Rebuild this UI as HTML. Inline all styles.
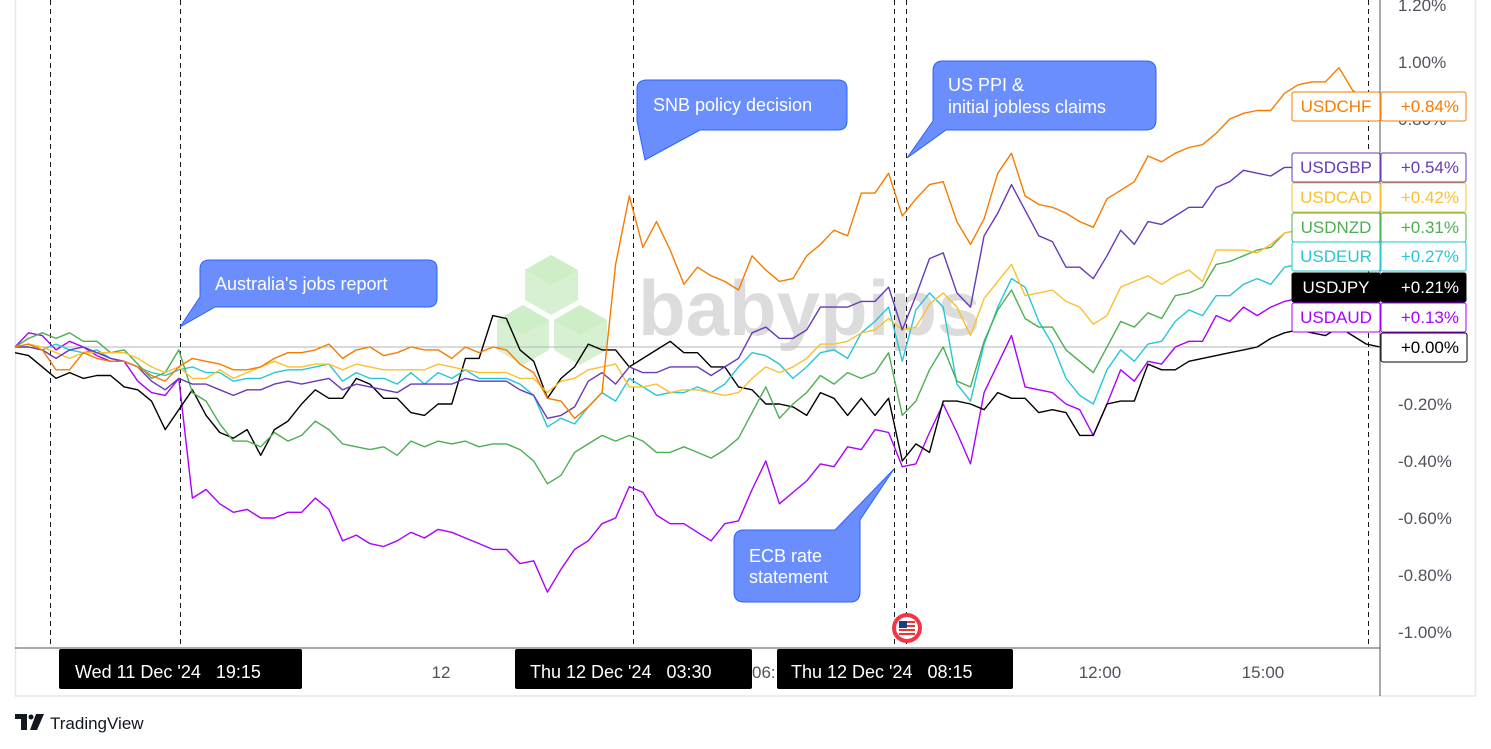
<!DOCTYPE html>
<html><head><meta charset="utf-8"><style>
html,body{margin:0;padding:0;background:#fff;}
svg{display:block;font-family:"Liberation Sans",sans-serif;}
</style></head><body>
<svg id="chart" width="1491" height="749" viewBox="0 0 1491 749">
<rect x="0" y="0" width="1491" height="749" fill="#fff"/>
<rect x="15.5" y="-1" width="1460" height="697" fill="none" stroke="#e6e7ec" stroke-width="1.5"/>
<g id="watermark">
<g><polygon points="551,255 578,270 578,300 551,315 525,300 525,270" fill="#d6f0d1"/><polygon points="551,255 578,270 551,285 525,270" fill="#cdeec7"/></g>
<g><polygon points="523,305 549,320 549,350 523,365 497,350 497,320" fill="#d6f0d1"/><polygon points="523,305 549,320 523,335 497,320" fill="#cdeec7"/></g>
<g><polygon points="580,305 607,320 607,350 580,365 554,350 554,320" fill="#d6f0d1"/><polygon points="580,305 607,320 580,335 554,320" fill="#cdeec7"/></g>
<text x="638" y="335" font-size="78" font-weight="bold" fill="#dcdcdc">babypips</text>
</g>
<g id="grid"></g>
<line x1="15" y1="347" x2="1380" y2="347" stroke="#b2b5be" stroke-width="1"/>
<g id="vlines"></g>
<g id="series"></g>
<line x1="1380" y1="0" x2="1380" y2="696" stroke="#50535e" stroke-width="1"/>
<line x1="15" y1="648" x2="1380" y2="648" stroke="#50535e" stroke-width="1"/>
<g id="yticks"></g>
<g id="labels"></g>
<g font-size="17">
<text x="441" y="678" text-anchor="middle" fill="#50535e">12</text>
<text x="752" y="678" fill="#50535e">06:</text>
<text x="1100" y="678" text-anchor="middle" fill="#50535e">12:00</text>
<text x="1263" y="678" text-anchor="middle" fill="#50535e">15:00</text>
<g><rect x="59" y="649" width="243" height="40" rx="2" fill="#000"/><text x="75" y="678" fill="#fff" font-size="18">Wed 11 Dec '24 &#160;&#160;19:15</text></g>
<g><rect x="515" y="649" width="237" height="40" rx="2" fill="#000"/><text x="530" y="678" fill="#fff" font-size="18">Thu 12 Dec '24 &#160;&#160;03:30</text></g>
<g><rect x="777" y="649" width="236" height="40" rx="2" fill="#000"/><text x="791" y="678" fill="#fff" font-size="18">Thu 12 Dec '24 &#160;&#160;08:15</text></g>
</g>
<g>
<circle cx="907" cy="628" r="15" fill="#f23645"/><circle cx="907" cy="628" r="11" fill="#fff"/>
<rect x="899" y="621" width="16" height="14" fill="#e53935"/><rect x="899" y="623" width="16" height="2" fill="#fff"/><rect x="899" y="627" width="16" height="2" fill="#fff"/><rect x="899" y="631" width="16" height="2" fill="#fff"/><rect x="899" y="621" width="8" height="7" fill="#1e3a8a"/>
</g>
<g font-size="18" fill="#fff">
<g><path d="M210,260 H428 Q437,260 437,269 V298 Q437,307 428,307 H215 L180,327 L200,297 V269 Q200,260 210,260 Z" fill="#6b8eff" stroke="#2962ff" stroke-width="1"/><text x="215" y="290">Australia's jobs report</text></g>
<g><path d="M647,80 H838 Q847,80 847,89 V121 Q847,130 838,130 H700 L645,160 L637,121 V89 Q637,80 647,80 Z" fill="#6b8eff" stroke="#2962ff" stroke-width="1"/><text x="653" y="111">SNB policy decision</text></g>
<g><path d="M943,61 H1146 Q1156,61 1156,71 V120 Q1156,130 1146,130 H946 L907,158 L933,121 V71 Q933,61 943,61 Z" fill="#6b8eff" stroke="#2962ff" stroke-width="1"/><text x="948" y="91">US PPI &amp;</text><text x="948" y="113">initial jobless claims</text></g>
<g><path d="M744,530 H835 L894,469 L860,520 V592 Q860,602 850,602 H744 Q734,602 734,592 V540 Q734,530 744,530 Z" fill="#6b8eff" stroke="#2962ff" stroke-width="1"/><text x="749" y="562">ECB rate</text><text x="749" y="583">statement</text></g>
</g>
<g>
<path d="M15,714 H27 V730 H21 V719 H15 Z" fill="#131722"/><circle cx="31" cy="717" r="2.5" fill="#131722"/><path d="M36,714 H44 L37,730 H30 Z" fill="#131722"/>
<text x="50" y="729" font-size="17" fill="#131722">TradingView</text>
</g>
</svg>
<script>
const seriesNames = ["USDCHF","USDGBP","USDCAD","USDNZD","USDEUR","USDJPY","USDAUD"];
const seriesColors = ["#f57c00","#673ab7","#fbc02d","#4caf50","#26c6da","#000000","#aa00ff"];
const finalValues = ["+0.84%","+0.54%","+0.42%","+0.31%","+0.27%","+0.21%","+0.13%"];
const yTickValues = [1.2,1.0,0.8,0.6,0.4,0.2,0,-0.2,-0.4,-0.6,-0.8,-1.0];
const eventIndex = [2.6,12.1,45.3,64.4,65.3,99.1];
const usdchf = [0.00,0.01,-0.01,-0.08,-0.08,-0.02,-0.04,-0.05,-0.05,-0.07,-0.10,-0.12,-0.07,-0.04,-0.05,-0.06,-0.08,-0.08,-0.07,-0.04,-0.02,-0.02,-0.01,0.01,-0.04,-0.01,0.00,-0.03,-0.02,0.00,-0.01,-0.01,-0.04,0.00,-0.02,0.00,
-0.01,-0.06,-0.09,-0.18,-0.19,-0.25,-0.21,-0.16,0.29,0.53,0.35,0.44,0.34,0.22,0.28,0.25,0.23,0.20,0.32,0.27,0.23,0.24,0.32,0.36,0.41,0.39,0.54,0.54,0.61,
0.46,0.52,0.57,0.58,0.44,0.36,0.45,0.61,0.68,0.53,0.50,0.49,0.47,0.44,0.42,0.52,0.55,0.58,0.67,0.65,0.68,0.70,0.71,0.75,0.80,0.82,0.83,0.83,0.89,0.92,0.93,0.93,0.98,0.90,0.87,0.84];
const usdgbp = [0.00,0.00,-0.01,-0.04,-0.01,0.00,-0.02,-0.04,-0.05,-0.07,-0.12,-0.15,-0.11,-0.13,-0.13,-0.15,-0.17,-0.15,-0.15,-0.13,-0.12,-0.13,-0.12,-0.11,-0.15,-0.13,-0.14,-0.15,-0.16,-0.13,-0.13,-0.13,-0.13,-0.11,-0.12,-0.12,
-0.12,-0.15,-0.17,-0.25,-0.24,-0.21,-0.12,-0.09,-0.13,-0.07,-0.09,-0.09,-0.07,-0.07,-0.07,-0.10,-0.07,-0.04,0.05,0.07,0.03,0.03,0.06,0.14,0.14,0.14,0.16,0.16,0.21,
0.06,0.18,0.31,0.33,0.19,0.14,0.39,0.47,0.57,0.48,0.39,0.37,0.28,0.28,0.24,0.32,0.41,0.36,0.44,0.43,0.46,0.49,0.49,0.56,0.58,0.62,0.61,0.60,0.63,0.63,0.63,0.62,0.62,0.61,0.60,0.60];
const usdcad = [0.00,0.01,0.00,-0.02,-0.04,-0.02,-0.02,-0.02,-0.02,-0.04,-0.07,-0.09,-0.07,-0.11,-0.11,-0.08,-0.11,-0.09,-0.07,-0.05,-0.07,-0.07,-0.06,-0.06,-0.08,-0.06,-0.07,-0.08,-0.08,-0.08,-0.08,-0.06,-0.07,-0.08,-0.09,-0.09,
-0.09,-0.11,-0.11,-0.16,-0.12,-0.11,-0.08,-0.07,-0.06,-0.14,-0.14,-0.13,-0.16,-0.15,-0.15,-0.16,-0.17,-0.16,-0.11,-0.07,-0.09,-0.07,-0.04,0.01,0.01,0.02,0.05,0.06,0.10,
0.06,0.07,0.15,0.19,0.14,0.04,0.17,0.23,0.29,0.18,0.19,0.20,0.16,0.14,0.08,0.11,0.21,0.23,0.25,0.22,0.25,0.27,0.23,0.34,0.34,0.34,0.33,0.36,0.40,0.41,0.42,0.42,0.42,0.42,0.42,0.42];
const usdnzd = [0.00,0.03,0.05,0.03,0.05,0.02,0.02,-0.02,-0.01,-0.06,-0.11,-0.09,-0.01,-0.16,-0.19,-0.27,-0.33,-0.33,-0.35,-0.30,-0.33,-0.31,-0.26,-0.29,-0.34,-0.35,-0.36,-0.35,-0.38,-0.33,-0.35,-0.33,-0.34,-0.33,-0.35,-0.34,
-0.34,-0.36,-0.40,-0.48,-0.45,-0.37,-0.34,-0.31,-0.33,-0.31,-0.33,-0.37,-0.37,-0.35,-0.37,-0.39,-0.36,-0.32,-0.23,-0.14,-0.25,-0.20,-0.16,-0.10,-0.13,-0.09,-0.11,-0.09,-0.02,
-0.24,-0.19,-0.08,0.00,-0.12,-0.14,0.02,0.13,0.20,0.10,0.07,0.07,-0.01,-0.05,-0.09,0.00,0.09,0.07,0.12,0.10,0.18,0.19,0.21,0.29,0.30,0.32,0.34,0.35,0.40,0.41,0.42,0.42,0.43,0.42,0.42,0.42];
const usdeur = [0.00,0.00,-0.01,0.01,-0.01,-0.02,-0.01,-0.04,-0.05,-0.07,-0.09,-0.10,-0.08,-0.07,-0.09,-0.09,-0.12,-0.11,-0.11,-0.09,-0.08,-0.08,-0.07,-0.06,-0.12,-0.09,-0.11,-0.11,-0.13,-0.09,-0.13,-0.09,-0.11,-0.08,-0.11,-0.11,
-0.11,-0.13,-0.17,-0.28,-0.25,-0.27,-0.21,-0.16,-0.19,-0.11,-0.14,-0.17,-0.16,-0.16,-0.14,-0.16,-0.13,-0.07,-0.02,-0.03,-0.06,-0.11,-0.07,-0.02,-0.01,-0.04,0.05,0.09,0.14,
-0.05,0.13,0.19,0.14,-0.13,-0.19,0.01,0.14,0.24,0.21,0.09,0.01,-0.11,-0.17,-0.20,-0.08,-0.01,-0.05,0.01,0.02,0.09,0.13,0.11,0.18,0.18,0.22,0.24,0.22,0.28,0.29,0.30,0.30,0.30,0.31,0.31,0.31];
const usdjpy = [-0.02,-0.03,-0.07,-0.11,-0.09,-0.11,-0.10,-0.10,-0.14,-0.15,-0.19,-0.29,-0.22,-0.15,-0.24,-0.30,-0.32,-0.29,-0.38,-0.29,-0.26,-0.20,-0.15,-0.18,-0.18,-0.11,-0.13,-0.18,-0.18,-0.23,-0.24,-0.20,-0.20,-0.04,-0.04,0.11,
0.10,-0.01,-0.05,-0.18,-0.11,-0.07,0.01,-0.01,-0.01,-0.07,-0.04,-0.01,0.02,-0.02,-0.02,-0.07,-0.07,-0.14,-0.15,-0.20,-0.20,-0.21,-0.24,-0.16,-0.18,-0.24,-0.18,-0.24,-0.18,
-0.40,-0.34,-0.37,-0.19,-0.19,-0.20,-0.22,-0.16,-0.18,-0.18,-0.23,-0.22,-0.23,-0.31,-0.31,-0.20,-0.19,-0.19,-0.06,-0.08,-0.08,-0.05,-0.04,-0.03,-0.02,-0.01,0.00,0.03,0.05,0.06,0.05,0.04,0.07,0.04,0.01,0.00];
const usdaud = [0.00,0.05,0.04,-0.01,0.02,0.00,-0.03,-0.05,-0.05,-0.12,-0.16,-0.17,-0.11,-0.53,-0.50,-0.55,-0.58,-0.57,-0.60,-0.60,-0.58,-0.58,-0.53,-0.57,-0.68,-0.66,-0.69,-0.70,-0.68,-0.65,-0.67,-0.64,-0.65,-0.67,-0.69,-0.71,
-0.71,-0.76,-0.75,-0.86,-0.78,-0.71,-0.68,-0.62,-0.60,-0.49,-0.51,-0.59,-0.62,-0.62,-0.65,-0.68,-0.62,-0.61,-0.50,-0.40,-0.55,-0.51,-0.47,-0.41,-0.42,-0.35,-0.36,-0.29,-0.30,
-0.42,-0.41,-0.30,-0.20,-0.30,-0.41,-0.16,-0.06,0.04,-0.14,-0.15,-0.16,-0.20,-0.22,-0.31,-0.20,-0.08,-0.12,-0.05,-0.06,0.00,0.02,0.02,0.11,0.09,0.14,0.11,0.14,0.16,0.17,0.16,0.16,0.15,0.14,0.13,0.13];
const seriesData = [usdchf,usdgbp,usdcad,usdnzd,usdeur,usdjpy,usdaud];

const NS = "http://www.w3.org/2000/svg";
const X0 = 15, X1 = 1380, Y0 = 347, PXPER = 285;
function xScale(i, n){ return X0 + i * (X1 - X0) / (n - 1); }
function yScale(v){ return Y0 - v * PXPER; }
function mk(tag, attrs, parent){ const e = document.createElementNS(NS, tag); for (const k in attrs) e.setAttribute(k, attrs[k]); parent.appendChild(e); return e; }

const yt = document.getElementById('yticks');
yTickValues.forEach(v => {
  const t = mk('text', {x: 1398, y: yScale(v) + 6, 'font-size': 17, fill: '#50535e'}, yt);
  
  
  t.textContent = (v < 0 ? '-' : '') + Math.abs(v).toFixed(2) + '%';
});

const vl = document.getElementById('vlines');
eventIndex.forEach(ix => {
  const x = Math.round(xScale(ix, 101)) + 0.5;
  const l = mk('line', {x1: x, y1: 0, x2: x, y2: 648, stroke: '#131722', 'stroke-width': 1, 'stroke-dasharray': '5,4'}, vl);
  
  
});

const sg = document.getElementById('series');
for (let s = seriesData.length - 1; s >= 0; s--) {
  const d = seriesData[s];
  const pts = d.map((v, i) => xScale(i, d.length).toFixed(1) + ',' + yScale(v).toFixed(1)).join(' ');
  const pl = mk('polyline', {points: pts, fill: 'none', stroke: seriesColors[s], 'stroke-width': 1.4, 'stroke-linejoin': 'round'}, sg);
  
  
}

const lg = document.getElementById('labels');
const labelY = [106,167,197,227,256,287,317];
seriesNames.forEach((nm, s) => {
  const g = mk('g', {}, lg);
  
  
  const cy = labelY[s];
  const black = s === 5;
  const fillc = black ? '#000' : '#fff';
  const txtc = black ? '#fff' : seriesColors[s];
  mk('rect', {x: 1292, y: cy - 14, width: 88, height: 29, rx: 2, fill: fillc, stroke: seriesColors[s], 'stroke-width': 1}, g);
  mk('rect', {x: 1381, y: cy - 14, width: 85, height: 29, rx: 2, fill: fillc, stroke: seriesColors[s], 'stroke-width': 1}, g);
  const t1 = mk('text', {x: 1336, y: cy + 6, 'font-size': 17, fill: txtc, 'text-anchor': 'middle'}, g);
  t1.textContent = nm;
  const t2 = mk('text', {x: 1459, y: cy + 6, 'font-size': 17, fill: txtc, 'text-anchor': 'end'}, g);
  t2.textContent = finalValues[s];
});
const zg = mk('g', {}, lg);


mk('rect', {x: 1381, y: 333, width: 86, height: 29, rx: 2, fill: '#fff', stroke: '#000', 'stroke-width': 1}, zg);
const zt = mk('text', {x: 1459, y: 353, 'font-size': 17, fill: '#000', 'text-anchor': 'end'}, zg);
zt.textContent = '+0.00%';
</script>
</body></html>
